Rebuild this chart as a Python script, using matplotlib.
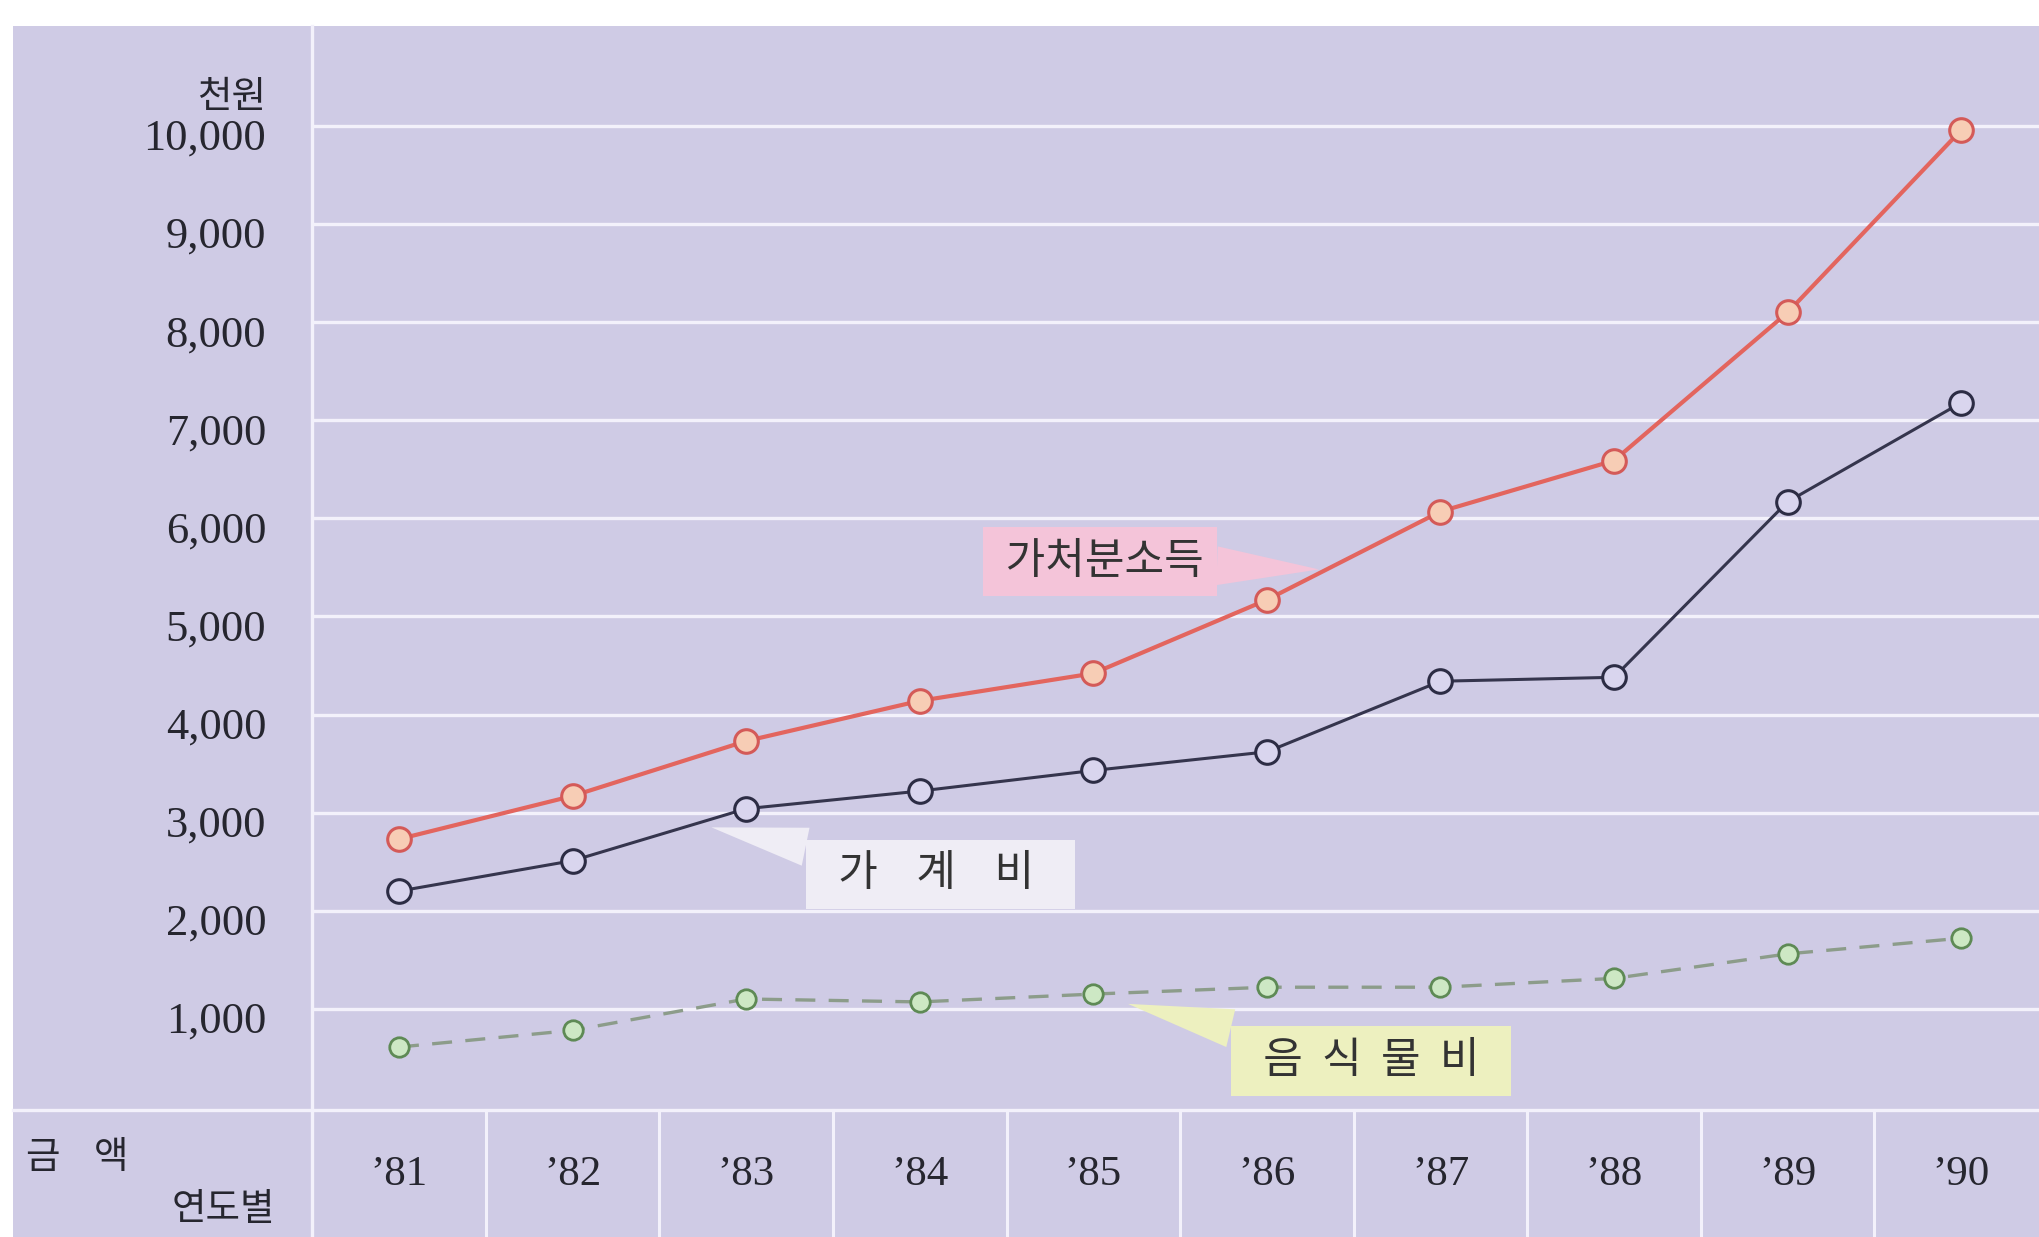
import numpy as np
import matplotlib
matplotlib.use('Agg')
import matplotlib.pyplot as plt
from matplotlib.lines import Line2D
from matplotlib.patches import Rectangle
from matplotlib.transforms import ScaledTranslation, blended_transform_factory

plt.rcParams['font.family'] = ['Noto Sans CJK KR', 'DejaVu Sans']

years = ["’81", "’82", "’83", "’84", "’85", "’86", "’87", "’88", "’89", "’90"]
income = [2730, 3170, 3730, 4140, 4420, 5170, 6070, 6590, 8100, 9960]      # 가처분소득
household = [2200, 2510, 3040, 3220, 3430, 3620, 4340, 4380, 6170, 7180]   # 가계비
food = [610, 780, 1100, 1070, 1150, 1220, 1220, 1310, 1560, 1720]          # 음식물비
yticks = [1000, 2000, 3000, 4000, 5000, 6000, 7000, 8000, 9000, 10000]

BG = '#cfcbe5'
GRID = '#f3f1fb'
serif = 'Liberation Serif'

fig = plt.figure(figsize=(20.39, 12.37), dpi=100, facecolor='white')
fig.patches.append(Rectangle((0.0064, 0), 1, 0.979, transform=fig.transFigure,
                             facecolor=BG, edgecolor='none', zorder=-10))

ax = fig.add_axes([0.1531, 0.1052, 0.8469, 0.8738])
ax.set_facecolor(BG)
ax.patch.set_alpha(0)
x = np.arange(len(years))
ax.set_xlim(-0.5, 9.448)
ax.set_ylim(0, 11021)
for s in ax.spines.values():
    s.set_visible(False)

# horizontal white grid lines
for v in yticks:
    ax.axhline(v, color=GRID, lw=2.4, zorder=1)

ax.set_yticks(yticks)
ax.set_yticklabels([f'{v:,}' for v in yticks], fontfamily=serif, fontsize=32, color='#26262f')
ax.tick_params(axis='y', length=0, pad=33)
ax.set_xticks([])
off = ScaledTranslation(0, -6 / 72, fig.dpi_scale_trans)
for lab in ax.get_yticklabels():
    lab.set_transform(lab.get_transform() + off)

# series
ax.plot(x, food, color='#8c9c8a', lw=2.4, ls=(0, (6, 4)), marker='o', ms=14,
        mfc='#cde8c4', mec='#5e8a55', mew=2, zorder=3)
ax.plot(x, household, color='#35354d', lw=2.2, marker='o', ms=17,
        mfc='#d9d5ee', mec='#2c2c44', mew=2.2, zorder=4)
ax.plot(x, income, color='#e3655e', lw=3, marker='o', ms=17,
        mfc='#f7cdb5', mec='#d45a58', mew=2.2, zorder=5)

# callout labels
def callout(text, xy, xytext, fc):
    ax.annotate(text, xy=xy, xytext=xytext, ha='center', va='center',
                fontsize=31, color='#333333', zorder=2,
                bbox=dict(boxstyle='square,pad=0.3', fc=fc, ec='none'),
                arrowprops=dict(arrowstyle='wedge,tail_width=0.9', fc=fc, ec='none',
                                shrinkA=0, shrinkB=0))

callout(' 가처분소득', (5.3, 5480), (4.04, 5560), '#f4c4d9')
callout('  가    계    비   ', (1.8, 2850), (3.12, 2370), '#efedf5')
callout('  음  식  물  비  ', (4.2, 1050), (5.6, 464), '#edf0bf')

# table row below the plot
fig.add_artist(Line2D([0.0064, 1], [0.103, 0.103], color=GRID, lw=2.4))
fig.add_artist(Line2D([0.1531, 0.1531], [0, 0.979], color=GRID, lw=2.4))
tr = blended_transform_factory(ax.transData, ax.transAxes)
for b in x[:-1] + 0.5:
    ax.plot([b, b], [-0.003, -0.125], color=GRID, lw=2.2, transform=tr, clip_on=False)
for i, lab in enumerate(years):
    ax.text(i, -0.063, lab, transform=tr, ha='center', va='center',
            fontfamily=serif, fontsize=31, color='#26262f')

fig.text(0.1307, 0.921, '천원', ha='right', va='center', fontsize=27, color='#26262f')
fig.text(0.0128, 0.064, '금    액', ha='left', va='center', fontsize=27, color='#26262f')
fig.text(0.0842, 0.022, '연도별', ha='left', va='center', fontsize=27, color='#26262f')

fig.savefig('out.png', dpi=100, facecolor='white')
